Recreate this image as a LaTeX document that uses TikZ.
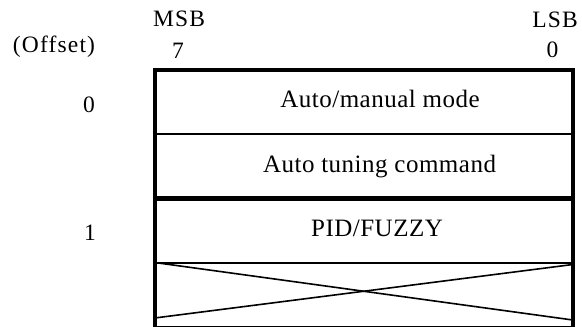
\documentclass[tikz,border=0pt]{standalone}
\usepackage{fontspec}
\setmainfont{Liberation Serif}
\newfontfamily\cellfont[LetterSpace=2]{Liberation Serif}
\newfontfamily\headfont[LetterSpace=5]{Liberation Serif}
\begin{document}
\begin{tikzpicture}[x=1pt,y=-1pt,
  celltext/.style={anchor=base,inner sep=0pt,font=\cellfont\fontsize{25}{28}\selectfont},
  headtext/.style={anchor=base,inner sep=0pt,font=\headfont\fontsize{23.5}{26}\selectfont},
  thickrule/.style={line width=3.8pt},
  midrule/.style={line width=5pt},
  thinrule/.style={line width=1.6pt},
  crossline/.style={line width=1.6pt}]
\useasboundingbox (0,0) rectangle (582,327);

% register frame: top edge and the two sides running off the bottom
\coordinate (tl) at (154.7,70);
\coordinate (tr) at (572.8,70);
\coordinate (bl) at (154.7,330);
\coordinate (br) at (572.8,330);
\draw[thickrule] (bl) -- (tl) -- (tr) -- (br);

% row separators
\draw[thinrule] (154.7,134) -- (572.8,134);
\draw[midrule] (154.7,198.5) -- (572.8,198.5);
\draw[thinrule] (154.7,263) -- (572.8,263);
\draw[thinrule] (154.7,326.5) -- (572.8,326.5);

% unused bits
\coordinate (xa) at (154.7,262.5);
\coordinate (xb) at (572.8,320);
\coordinate (xc) at (154.7,318);
\coordinate (xd) at (572.8,264.5);
\draw[crossline] (xa) -- (xb);
\draw[crossline] (xc) -- (xd);

% cell contents
\node[celltext] (r1) at (380,107) {Auto/manual mode};
\node[celltext] (r2) at (379.5,172) {Auto tuning command};
\node[celltext] (r3) at (377,236) {PID/FUZZY};

% bit labels
\node[headtext] (msb) at (179,26) {MSB};
\node[headtext] (b7) at (178,58) {7};
\node[headtext] (lsb) at (555,27) {LSB};
\node[headtext] (b0) at (552.5,57) {0};

% offsets
\node[headtext] (offs) at (54,52) {(Offset)};
\node[headtext] (o0) at (89,112) {0};
\node[headtext] (o1) at (90,240) {1};
\end{tikzpicture}
\end{document}
